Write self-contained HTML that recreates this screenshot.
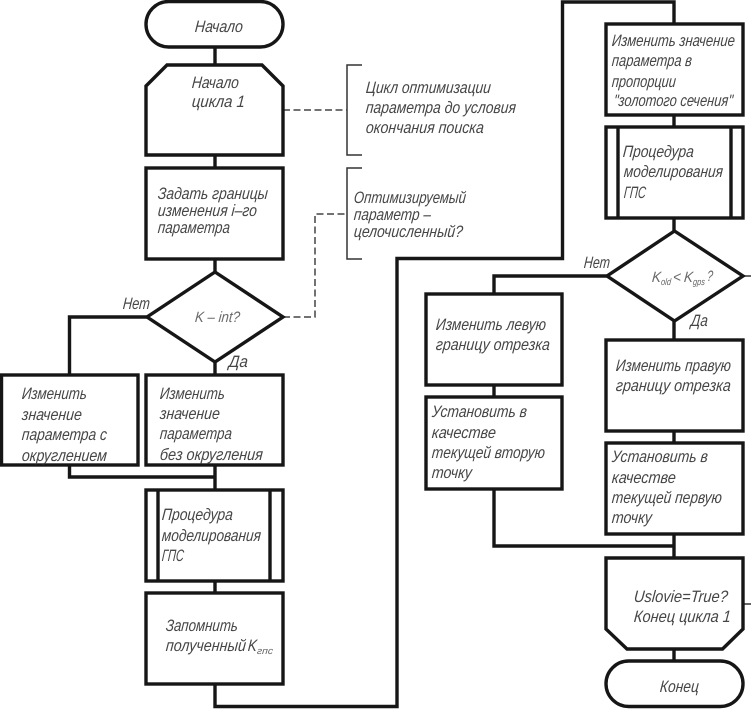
<!DOCTYPE html>
<html lang="ru"><head><meta charset="utf-8"><title>Flowchart</title>
<style>
html,body{margin:0;padding:0;background:#fff;width:751px;height:709px;overflow:hidden}
svg{display:block}
.s{fill:none;stroke:#161616;stroke-width:3.4;stroke-linejoin:miter}
.b{fill:#fff;stroke:#161616;stroke-width:3.4;stroke-linejoin:miter}
.t{fill:none;stroke:#333;stroke-width:1.5}
.d{fill:none;stroke:#444;stroke-width:1.5;stroke-dasharray:7 3.500}
text{font-family:"Liberation Sans","DejaVu Sans",sans-serif;font-style:italic;font-size:16.5px;fill:#464646;transform-box:fill-box;transform-origin:center;transform:skewX(-5deg)}
.m{font-size:15px;fill:#6a6a6a}
.u{font-size:9.500px;fill:#666}
</style></head><body>
<svg width="751" height="709" viewBox="0 0 751 709" xmlns="http://www.w3.org/2000/svg">
<!-- connectors -->
<path class="s" d="M215 47V65M215 155V168M215 259V272M147 317H69.5V375M215 362V375M69.5 465V477H215M215 465V490M215 581V593M215 684V706.5H397V258.5H562.5V2H674V24M674 115V127M674 218V231M607 276H494V294M674 321V340M494 385V397M494 489V546H674M674 431V443M674 534V558M674 649V661"/>
<path class="t" d="M743 276H751M743 604H751"/>
<!-- annotation brackets -->
<path class="t" d="M362 65H347V155H362M362 168H347V259H362"/>
<path class="d" d="M283 110H347M283 317H315V214H347"/>
<!-- left column shapes -->
<rect class="b" x="146" y="1.5" width="137" height="45.5" rx="22.7"/>
<path class="b" d="M167 65H262L283 86V155H146V86Z"/>
<rect class="b" x="146" y="168" width="137" height="91"/>
<path class="b" d="M215 272L283 317L215 362L147 317Z"/>
<rect class="b" x="1.5" y="375" width="136.500" height="90"/>
<rect class="b" x="146" y="375" width="137" height="90"/>
<rect class="b" x="146" y="490" width="137" height="91"/>
<path class="s" d="M158 490V581M270 490V581"/>
<rect class="b" x="146" y="593" width="137" height="91"/>
<!-- right column shapes -->
<rect class="b" x="606" y="24" width="137" height="91"/>
<rect class="b" x="606" y="127" width="137" height="91"/>
<path class="s" d="M618 127V218M731 127V218"/>
<path class="b" d="M674.500 231L743 276L674.500 321L607 276Z"/>
<rect class="b" x="426" y="294" width="136" height="91"/>
<rect class="b" x="426" y="397" width="136" height="92"/>
<rect class="b" x="606" y="340" width="137" height="91"/>
<rect class="b" x="606" y="443" width="137" height="91"/>
<path class="b" d="M606 558H743V629L722.500 649H627L606 629Z"/>
<rect class="b" x="606" y="661" width="137" height="45.500" rx="22.700"/>
<!-- labels, left -->
<text x="195" y="32" textLength="48" lengthAdjust="spacingAndGlyphs">Начало</text>
<text x="192" y="88" textLength="47" lengthAdjust="spacingAndGlyphs">Начало</text>
<text x="192" y="107" textLength="53" lengthAdjust="spacingAndGlyphs">цикла 1</text>
<text x="158" y="199" textLength="110" lengthAdjust="spacingAndGlyphs">Задать границы</text>
<text x="158" y="216" textLength="99" lengthAdjust="spacingAndGlyphs">изменения i–го</text>
<text x="158" y="233" textLength="72" lengthAdjust="spacingAndGlyphs">параметра</text>
<text class="m" x="195" y="322" textLength="45" lengthAdjust="spacingAndGlyphs">K – int?</text>
<text x="123" y="309" textLength="27" lengthAdjust="spacingAndGlyphs">Нет</text>
<text x="229" y="367" textLength="19" lengthAdjust="spacingAndGlyphs">Да</text>
<text x="22" y="399" textLength="65" lengthAdjust="spacingAndGlyphs">Изменить</text>
<text x="22" y="420" textLength="60" lengthAdjust="spacingAndGlyphs">значение</text>
<text x="22" y="440" textLength="85" lengthAdjust="spacingAndGlyphs">параметра с</text>
<text x="22" y="461" textLength="85" lengthAdjust="spacingAndGlyphs">округлением</text>
<text x="160" y="399" textLength="65" lengthAdjust="spacingAndGlyphs">Изменить</text>
<text x="160" y="419" textLength="60" lengthAdjust="spacingAndGlyphs">значение</text>
<text x="160" y="439" textLength="72" lengthAdjust="spacingAndGlyphs">параметра</text>
<text x="160" y="460" textLength="103" lengthAdjust="spacingAndGlyphs">без округления</text>
<text x="162" y="520" textLength="71" lengthAdjust="spacingAndGlyphs">Процедура</text>
<text x="162" y="541" textLength="99" lengthAdjust="spacingAndGlyphs">моделирования</text>
<text x="162" y="561" textLength="22" lengthAdjust="spacingAndGlyphs">ГПС</text>
<text x="166" y="631" textLength="72" lengthAdjust="spacingAndGlyphs">Запомнить</text>
<text x="166" y="651" textLength="80" lengthAdjust="spacingAndGlyphs">полученный</text>
<text x="248" y="651" textLength="9" lengthAdjust="spacingAndGlyphs">K</text>
<text class="u" x="257" y="654" textLength="16" lengthAdjust="spacingAndGlyphs">гпс</text>
<!-- annotations -->
<text x="366" y="93" textLength="125" lengthAdjust="spacingAndGlyphs">Цикл оптимизации</text>
<text x="366" y="113" textLength="150" lengthAdjust="spacingAndGlyphs">параметра до условия</text>
<text x="366" y="133" textLength="118" lengthAdjust="spacingAndGlyphs">окончания поиска</text>
<text x="354" y="203" textLength="112" lengthAdjust="spacingAndGlyphs">Оптимизируемый</text>
<text x="354" y="220" textLength="77" lengthAdjust="spacingAndGlyphs">параметр –</text>
<text x="354" y="237" textLength="109" lengthAdjust="spacingAndGlyphs">целочисленный?</text>
<!-- labels, right -->
<text x="612" y="46" textLength="123" lengthAdjust="spacingAndGlyphs">Изменить значение</text>
<text x="612" y="66" textLength="80" lengthAdjust="spacingAndGlyphs">параметра в</text>
<text x="612" y="87" textLength="64" lengthAdjust="spacingAndGlyphs">пропорции</text>
<text x="614" y="106" textLength="119" lengthAdjust="spacingAndGlyphs">"золотого сечения"</text>
<text x="623" y="157" textLength="71" lengthAdjust="spacingAndGlyphs">Процедура</text>
<text x="624" y="177" textLength="99" lengthAdjust="spacingAndGlyphs">моделирования</text>
<text x="624" y="198" textLength="22" lengthAdjust="spacingAndGlyphs">ГПС</text>
<text x="584" y="268" textLength="26" lengthAdjust="spacingAndGlyphs">Нет</text>
<text class="m" x="652" y="282" textLength="9" lengthAdjust="spacingAndGlyphs">K</text>
<text class="u" x="661" y="285" textLength="10" lengthAdjust="spacingAndGlyphs">old</text>
<text class="m" x="673" y="282" textLength="8" lengthAdjust="spacingAndGlyphs">&lt;</text>
<text class="m" x="684" y="282" textLength="9" lengthAdjust="spacingAndGlyphs">K</text>
<text class="u" x="693" y="285" textLength="12" lengthAdjust="spacingAndGlyphs">gps</text>
<text class="m" x="707" y="281" textLength="6" lengthAdjust="spacingAndGlyphs">?</text>
<text x="691" y="326" textLength="17" lengthAdjust="spacingAndGlyphs">Да</text>
<text x="436" y="330" textLength="110" lengthAdjust="spacingAndGlyphs">Изменить левую</text>
<text x="436" y="350" textLength="114" lengthAdjust="spacingAndGlyphs">границу отрезка</text>
<text x="616" y="371" textLength="115" lengthAdjust="spacingAndGlyphs">Изменить правую</text>
<text x="616" y="391" textLength="115" lengthAdjust="spacingAndGlyphs">границу отрезка</text>
<text x="432" y="417" textLength="95" lengthAdjust="spacingAndGlyphs">Установить в</text>
<text x="432" y="438" textLength="64" lengthAdjust="spacingAndGlyphs">качестве</text>
<text x="432" y="458" textLength="113" lengthAdjust="spacingAndGlyphs">текущей вторую</text>
<text x="432" y="478" textLength="40" lengthAdjust="spacingAndGlyphs">точку</text>
<text x="612" y="462" textLength="96" lengthAdjust="spacingAndGlyphs">Установить в</text>
<text x="612" y="483" textLength="64" lengthAdjust="spacingAndGlyphs">качестве</text>
<text x="612" y="503" textLength="110" lengthAdjust="spacingAndGlyphs">текущей первую</text>
<text x="612" y="523" textLength="40" lengthAdjust="spacingAndGlyphs">точку</text>
<text x="634" y="602" textLength="94" lengthAdjust="spacingAndGlyphs">Uslovie=True?</text>
<text x="634" y="622" textLength="97" lengthAdjust="spacingAndGlyphs">Конец цикла 1</text>
<text x="660" y="692" textLength="39" lengthAdjust="spacingAndGlyphs">Конец</text>
</svg>
</body></html>
